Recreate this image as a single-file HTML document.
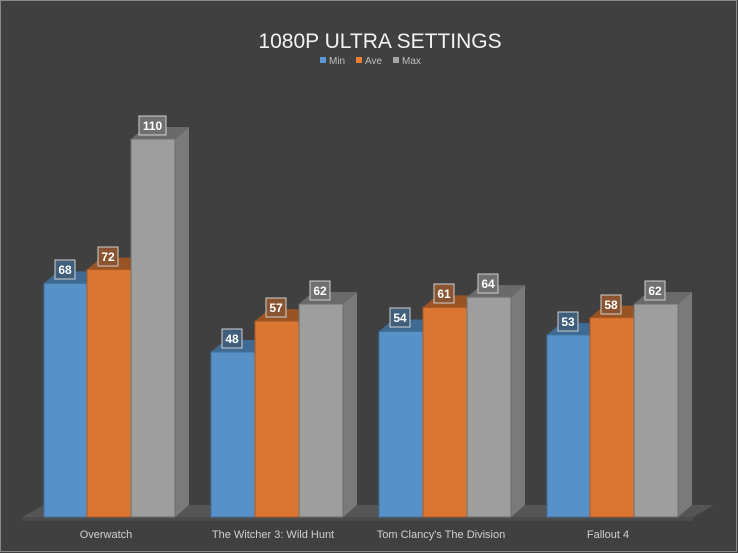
<!DOCTYPE html>
<html><head><meta charset="utf-8"><style>
html,body{margin:0;padding:0;background:#404040}
svg{display:block}
text{font-family:"Liberation Sans","DejaVu Sans",sans-serif}
</style></head><body>
<svg width="738" height="553" viewBox="0 0 738 553" xmlns="http://www.w3.org/2000/svg">
<rect x="0" y="0" width="738" height="553" fill="#404040"/>
<rect x="0.5" y="0.5" width="736" height="551" fill="none" stroke="#8a8a8a" stroke-width="1"/>
<text x="380" y="48" text-anchor="middle" font-size="21" fill="#f2f2f2">1080P ULTRA SETTINGS</text>
<rect x="320" y="57" width="6" height="6" fill="#5b9bd5"/><text x="329" y="64" font-size="10" fill="#bfbfbf">Min</text>
<rect x="356" y="57" width="6" height="6" fill="#ed7d31"/><text x="365" y="64" font-size="10" fill="#bfbfbf">Ave</text>
<rect x="393" y="57" width="6" height="6" fill="#a5a5a5"/><text x="402" y="64" font-size="10" fill="#bfbfbf">Max</text>
<!-- floor -->
<polygon points="22,517 44,505 714,505 693,517" fill="#555555"/>
<rect x="22" y="517" width="671" height="4" fill="#4b4b4b"/>
<g id="bars">
<!-- template: x, T -->
<!-- Overwatch -->
<g><polygon points="88,283.4 102,271.4 102,505 88,517" fill="#41719c"/><polygon points="44,283.4 58,271.4 102,271.4 88,283.4" fill="#3e6a94"/><rect x="44" y="283.4" width="44" height="233.6" fill="#5891c8" stroke="#41719c"/></g>
<g><polygon points="131,269.6 145,257.6 145,505 131,517" fill="#a85a23"/><polygon points="87,269.6 101,257.6 145,257.6 131,269.6" fill="#9a5424"/><rect x="87" y="269.6" width="44" height="247.4" fill="#dc7733" stroke="#a85a23"/></g>
<g><polygon points="175,139 189,127 189,505 175,517" fill="#7a7a7a"/><polygon points="131,139 145,127 189,127 175,139" fill="#6a6a6a"/><rect x="131" y="139" width="44" height="378" fill="#9e9e9e" stroke="#6f6f6f"/></g>
<!-- Witcher -->
<g><polygon points="255,352 269,340 269,505 255,517" fill="#41719c"/><polygon points="211,352 225,340 269,340 255,352" fill="#3e6a94"/><rect x="211" y="352" width="44" height="165" fill="#5891c8" stroke="#41719c"/></g>
<g><polygon points="299,321.1 313,309.1 313,505 299,517" fill="#a85a23"/><polygon points="255,321.1 269,309.1 313,309.1 299,321.1" fill="#9a5424"/><rect x="255" y="321.1" width="44" height="195.9" fill="#dc7733" stroke="#a85a23"/></g>
<g><polygon points="343,304 357,292 357,505 343,517" fill="#7a7a7a"/><polygon points="299,304 313,292 357,292 343,304" fill="#6a6a6a"/><rect x="299" y="304" width="44" height="213" fill="#9e9e9e" stroke="#6f6f6f"/></g>
<!-- Division -->
<g><polygon points="423,331.5 437,319.5 437,505 423,517" fill="#41719c"/><polygon points="379,331.5 393,319.5 437,319.5 423,331.5" fill="#3e6a94"/><rect x="379" y="331.5" width="44" height="185.5" fill="#5891c8" stroke="#41719c"/></g>
<g><polygon points="467,307.4 481,295.4 481,505 467,517" fill="#a85a23"/><polygon points="423,307.4 437,295.4 481,295.4 467,307.4" fill="#9a5424"/><rect x="423" y="307.4" width="44" height="209.6" fill="#dc7733" stroke="#a85a23"/></g>
<g><polygon points="511,297.1 525,285.1 525,505 511,517" fill="#7a7a7a"/><polygon points="467,297.1 481,285.1 525,285.1 511,297.1" fill="#6a6a6a"/><rect x="467" y="297.1" width="44" height="219.9" fill="#9e9e9e" stroke="#6f6f6f"/></g>
<!-- Fallout -->
<g><polygon points="591,334.9 605,322.9 605,505 591,517" fill="#41719c"/><polygon points="547,334.9 561,322.9 605,322.9 591,334.9" fill="#3e6a94"/><rect x="547" y="334.9" width="44" height="182.1" fill="#5891c8" stroke="#41719c"/></g>
<g><polygon points="634,317.7 648,305.7 648,505 634,517" fill="#a85a23"/><polygon points="590,317.7 604,305.7 648,305.7 634,317.7" fill="#9a5424"/><rect x="590" y="317.7" width="44" height="199.3" fill="#dc7733" stroke="#a85a23"/></g>
<g><polygon points="678,304 692,292 692,505 678,517" fill="#7a7a7a"/><polygon points="634,304 648,292 692,292 678,304" fill="#6a6a6a"/><rect x="634" y="304" width="44" height="213" fill="#9e9e9e" stroke="#6f6f6f"/></g>
</g>
<!-- labels -->
<g font-size="12" font-weight="bold" fill="#ffffff" text-anchor="middle" stroke-width="1">
<rect x="55" y="260" width="20" height="19" fill="#3f5e7c" stroke="#d0d0d0"/><text x="65" y="274">68</text>
<rect x="98" y="247" width="20" height="19" fill="#8a5430" stroke="#d0d0d0"/><text x="108" y="261">72</text>
<rect x="139" y="116" width="27" height="19" fill="#707070" stroke="#d0d0d0"/><text x="152.5" y="130">110</text>
<rect x="222" y="329" width="20" height="19" fill="#3f5e7c" stroke="#d0d0d0"/><text x="232" y="343">48</text>
<rect x="266" y="298" width="20" height="19" fill="#8a5430" stroke="#d0d0d0"/><text x="276" y="312">57</text>
<rect x="310" y="281" width="20" height="19" fill="#707070" stroke="#d0d0d0"/><text x="320" y="295">62</text>
<rect x="390" y="308" width="20" height="19" fill="#3f5e7c" stroke="#d0d0d0"/><text x="400" y="322">54</text>
<rect x="434" y="284" width="20" height="19" fill="#8a5430" stroke="#d0d0d0"/><text x="444" y="298">61</text>
<rect x="478" y="274" width="20" height="19" fill="#707070" stroke="#d0d0d0"/><text x="488" y="288">64</text>
<rect x="558" y="312" width="20" height="19" fill="#3f5e7c" stroke="#d0d0d0"/><text x="568" y="326">53</text>
<rect x="601" y="295" width="20" height="19" fill="#8a5430" stroke="#d0d0d0"/><text x="611" y="309">58</text>
<rect x="645" y="281" width="20" height="19" fill="#707070" stroke="#d0d0d0"/><text x="655" y="295">62</text>
</g>
<g font-size="11" fill="#d0d0d0" text-anchor="middle">
<text x="106" y="538">Overwatch</text>
<text x="273" y="538">The Witcher 3: Wild Hunt</text>
<text x="441" y="538">Tom Clancy's The Division</text>
<text x="608" y="538">Fallout 4</text>
</g>
</svg>
</body></html>
